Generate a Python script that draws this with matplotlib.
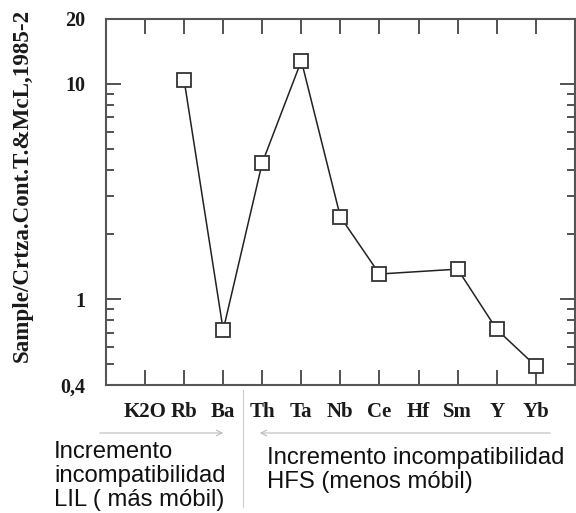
import numpy as np
import matplotlib
matplotlib.use("Agg")
import matplotlib.pyplot as plt
from matplotlib.ticker import FixedLocator, NullFormatter

# elementos normalizados (K2O y Hf sin dato)
elements = ["K2O", "Rb", "Ba", "Th", "Ta", "Nb", "Ce", "Hf", "Sm", "Y", "Yb"]
values = [np.nan, 10.4, 0.72, 4.3, 12.8, 2.41, 1.31, np.nan, 1.38, 0.725, 0.49]

ytick_vals = [0.4, 1, 10, 20]
ytick_labels = ["0,4", "1", "10", "20"]
yminor_vals = [0.5, 0.6, 0.7, 0.8, 0.9, 2, 3, 4, 5, 6, 7, 8, 9]

serif = "Liberation Serif"
sans = "Liberation Sans"

fig = plt.figure(figsize=(5.76, 5.13), dpi=100)
ax = fig.add_axes([0.184, 0.2495, 0.814, 0.7135])

x = np.arange(len(elements))
v = np.array(values)
ok = ~np.isnan(v)
ax.plot(x[ok], v[ok], color="#222222", lw=1.1, marker="s", ms=9.5,
        mfc="white", mec="#333333", mew=1.3, zorder=3)

ax.set_yscale("log")
ax.set_ylim(0.4, 20)
ax.set_xlim(-1, 11)

ax.yaxis.set_major_locator(FixedLocator(ytick_vals))
ax.set_yticklabels(ytick_labels)
ax.yaxis.set_minor_locator(FixedLocator(yminor_vals))
ax.yaxis.set_minor_formatter(NullFormatter())
ax.set_xticks(x)
ax.set_xticklabels(elements)

ax.tick_params(axis="both", which="major", direction="in", length=11, width=1.3,
               color="#444444", top=True, right=True)
ax.tick_params(axis="y", which="minor", direction="in", length=6, width=1.3,
               color="#444444", right=True)
ax.tick_params(axis="x", pad=12, labelsize=15)
ax.tick_params(axis="y", pad=15, labelsize=14.5)
for lab in ax.get_xticklabels() + ax.get_yticklabels():
    lab.set_fontfamily(serif)
    lab.set_fontweight("bold")
    lab.set_color("#1a1a1a")
# no mostrar ticks en los extremos del eje y
for t in ax.yaxis.get_major_ticks():
    if t.get_loc() in (0.4, 20):
        t.tick1line.set_visible(False)
        t.tick2line.set_visible(False)

for s in ax.spines.values():
    s.set_color("#555555")
    s.set_linewidth(1.5)

ax.set_ylabel("Sample/Crtza.Cont.T.&McL,1985-2", fontfamily=serif,
              fontweight="bold", fontsize=16.6, color="#1a1a1a")
ax.yaxis.set_label_coords(-0.155, 0.544)

# flechas y textos debajo del gráfico
W, H = 576.0, 513.0
arr = dict(arrowstyle="->", color="#bbbbbb", lw=0.8)
fig.add_artist(matplotlib.patches.FancyArrowPatch((97 / W, 1 - 433 / H), (226 / W, 1 - 433 / H),
                                                  transform=fig.transFigure, mutation_scale=10, **arr))
fig.add_artist(matplotlib.patches.FancyArrowPatch((553 / W, 1 - 433 / H), (257 / W, 1 - 433 / H),
                                                  transform=fig.transFigure, mutation_scale=10, **arr))
fig.add_artist(plt.Line2D([243 / W, 243 / W], [1 - 390 / H, 1 - 507 / H], color="#cccccc", lw=0.8))

fig.text(54 / W, 1 - 441 / H, "Incremento\nincompatibilidad\nLIL ( más móbil)", fontfamily=sans,
         fontsize=17.2, va="top", ha="left", linespacing=1.12, color="#111111")
fig.text(267 / W, 1 - 447 / H, "Incremento incompatibilidad\nHFS (menos móbil)", fontfamily=sans,
         fontsize=17.2, va="top", ha="left", linespacing=1.12, color="#111111")

fig.savefig("out.png", dpi=100)
